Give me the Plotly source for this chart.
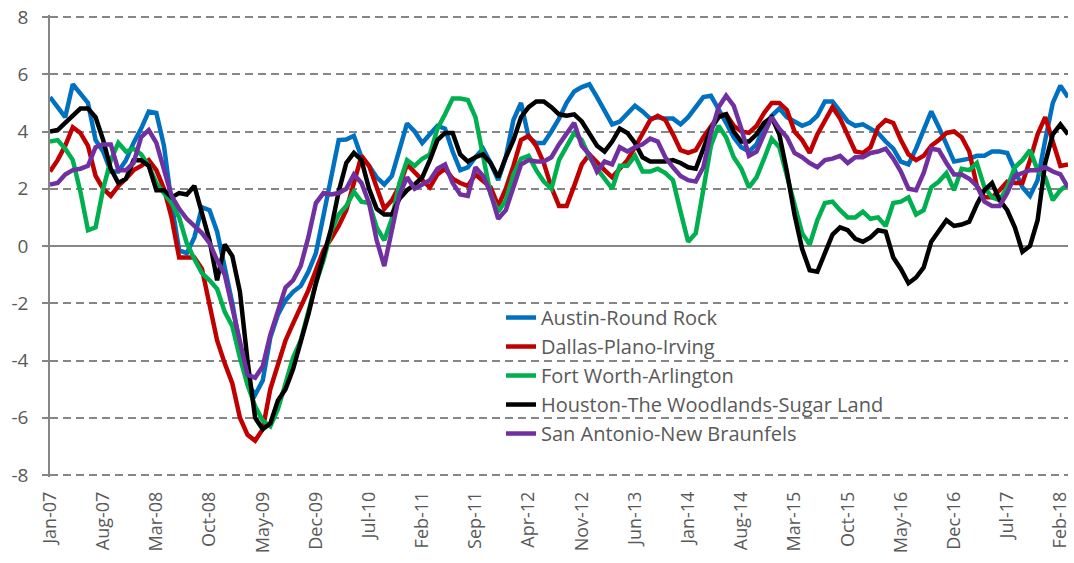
import pandas as pd
import plotly.graph_objects as go

months = pd.date_range("2007-01-01", periods=135, freq="MS").strftime("%b-%y").tolist()
tick_months = months[::7]
tick_idx = list(range(0, len(months), 7))
y_tick_vals = [-8, -6, -4, -2, 0, 2, 4, 6, 8]
y_tick_text = ["-8", "-6", "-4", "-2", "0", "2", "4", "6", "8"]

austin = [5.2, 4.85, 4.5, 5.65, 5.3, 5.0, 3.7, 3.3, 2.6, 2.6,
          3.0, 3.6, 4.1, 4.7, 4.65, 3.5, 1.5, -0.15, -0.25, 0.3,
          1.35, 1.25, 0.5, -0.7, -2.0, -3.5, -4.8, -5.2, -4.7, -3.2,
          -2.4, -1.9, -1.6, -1.4, -0.9, -0.25, 1.1, 2.4, 3.7, 3.72,
          3.85, 3.1, 2.8, 2.4, 2.15, 2.45, 3.3, 4.28, 4.0, 3.6,
          3.9, 4.2, 4.1, 3.3, 2.65, 2.75, 3.1, 3.4, 2.9, 2.3,
          3.1, 4.4, 5.0, 3.8, 3.6, 3.6, 4.0, 4.45, 5.0, 5.4,
          5.55, 5.65, 5.2, 4.7, 4.25, 4.35, 4.6, 4.9, 4.7, 4.45,
          4.5, 4.45, 4.45, 4.25, 4.5, 4.85, 5.2, 5.25, 4.8, 4.3,
          3.8, 3.45, 3.3, 3.55, 4.15, 4.55, 4.8, 4.5, 4.35, 4.2,
          4.3, 4.55, 5.05, 5.05, 4.7, 4.35, 4.2, 4.25, 4.1, 3.95,
          3.65, 3.4, 2.95, 2.85, 3.4, 4.1, 4.7, 4.15, 3.55, 2.95,
          3.0, 3.05, 3.15, 3.15, 3.3, 3.3, 3.25, 2.6, 2.05, 1.75,
          2.3, 3.7, 5.0, 5.6, 5.2]

dallas = [2.6, 3.0, 3.5, 4.15, 3.95, 3.5, 2.45, 2.0, 1.75, 2.1,
          2.35, 2.65, 2.8, 3.0, 2.65, 2.0, 1.0, -0.4, -0.4, -0.4,
          -0.8, -2.1, -3.3, -4.1, -4.8, -6.0, -6.6, -6.8, -6.4, -5.0,
          -4.15, -3.3, -2.7, -2.15, -1.55, -0.85, -0.15, 0.25, 0.7, 1.25,
          2.2, 3.15, 2.8, 2.06, 1.3, 1.6, 2.1, 2.85, 2.55, 2.3,
          2.05, 2.5, 2.7, 2.35, 2.2, 2.1, 2.5, 2.25, 2.05, 1.4,
          2.0, 2.8, 3.7, 3.85, 3.5, 2.9, 2.05, 1.4, 1.4, 2.1,
          2.85, 3.2, 2.9, 2.65, 2.4, 2.7, 3.0, 3.45, 3.9, 4.4,
          4.55, 4.4, 3.9, 3.35, 3.25, 3.35, 3.8, 4.2, 4.55, 4.6,
          4.2, 4.0, 3.95, 4.2, 4.65, 5.0, 5.0, 4.75, 4.0, 3.7,
          3.25, 3.9, 4.4, 4.85, 4.45, 3.85, 3.3, 3.25, 3.45, 4.15,
          4.4, 4.3, 3.7, 3.2, 3.0, 3.15, 3.5, 3.7, 3.95, 4.0,
          3.8, 3.3, 2.1, 1.7, 1.7, 1.95, 2.25, 2.2, 2.2, 3.0,
          3.9, 4.5, 3.7, 2.8, 2.85]

fort_worth = [3.65, 3.7, 3.4, 3.0, 1.9, 0.55, 0.65, 2.0, 3.0, 3.6,
              3.3, 3.4, 3.2, 2.8, 2.2, 1.85, 1.5, 1.0, 0.1, -0.45,
              -0.95, -1.2, -1.5, -2.3, -2.8, -3.9, -4.85, -5.6, -6.1, -6.3,
              -5.7, -4.8, -3.9, -3.3, -2.3, -1.3, -0.5, 0.5, 1.1, 1.4,
              1.9, 1.55, 1.5, 0.65, 0.2, 0.95, 2.2, 3.0, 2.8, 3.05,
              3.2, 4.1, 4.6, 5.15, 5.15, 5.1, 4.5, 3.1, 1.8, 1.2,
              1.6, 2.5, 3.05, 3.15, 2.65, 2.25, 2.0, 3.0, 3.5, 3.95,
              3.7, 3.1, 2.7, 2.35, 2.0, 2.8, 2.8, 3.15, 2.6, 2.6,
              2.7, 2.55, 2.3, 1.2, 0.15, 0.45, 2.05, 3.5, 4.2, 3.8,
              3.1, 2.7, 2.05, 2.4, 3.05, 3.75, 3.45, 2.4, 1.35, 0.45,
              0.05, 0.9, 1.5, 1.55, 1.25, 1.0, 1.0, 1.2, 0.95, 1.0,
              0.7, 1.5, 1.55, 1.7, 1.1, 1.25, 2.05, 2.25, 2.55, 1.95,
              2.7, 2.65, 2.9, 2.05, 1.7, 1.6, 2.05, 2.75, 3.0, 3.35,
              2.65, 2.4, 1.6, 1.95, 2.15]

houston = [4.0, 4.05, 4.3, 4.55, 4.8, 4.8, 4.5, 3.7, 2.7, 2.2,
           2.35, 3.0, 3.0, 2.8, 1.95, 1.95, 1.7, 1.85, 1.8, 2.1,
           1.1, 0.2, -1.2, 0.05, -0.35, -1.6, -4.0, -6.0, -6.4, -6.2,
           -5.4, -5.0, -4.3, -3.4, -2.4, -1.3, -0.4, 0.6, 1.9, 2.9,
           3.25, 3.0, 2.0, 1.3, 1.1, 1.1, 1.65, 1.95, 2.15, 2.4,
           3.0, 3.7, 3.95, 3.95, 3.2, 2.95, 3.1, 3.2, 2.9, 2.4,
           3.1, 3.7, 4.5, 4.85, 5.05, 5.05, 4.85, 4.6, 4.55, 4.6,
           4.35, 3.95, 3.5, 3.3, 3.65, 4.1, 3.95, 3.6, 3.1, 2.95,
           2.95, 2.95, 3.0, 2.9, 2.75, 2.7, 3.4, 4.1, 4.5, 4.6,
           4.0, 3.65, 3.65, 3.9, 4.3, 4.5, 3.9, 2.6, 1.1, -0.1,
           -0.85, -0.9, -0.25, 0.4, 0.65, 0.55, 0.25, 0.15, 0.3, 0.55,
           0.5, -0.4, -0.8, -1.3, -1.1, -0.75, 0.15, 0.55, 0.9, 0.7,
           0.75, 0.85, 1.45, 1.95, 2.2, 1.6, 1.25, 0.65, -0.2, 0.0,
           0.9, 2.9, 3.9, 4.25, 3.9]

san_antonio = [2.15, 2.2, 2.5, 2.65, 2.7, 2.8, 3.45, 3.55, 3.55, 2.65,
               2.65, 2.9, 3.8, 4.05, 3.6, 2.6, 1.75, 1.3, 0.95, 0.7,
               0.45, 0.1, -0.5, -1.0, -2.2, -3.4, -4.5, -4.6, -4.2, -3.1,
               -2.25, -1.45, -1.2, -0.7, 0.3, 1.5, 1.85, 1.8, 1.85, 2.0,
               2.5, 2.2, 1.5, 0.2, -0.7, 0.5, 1.8, 2.4, 2.0, 2.15,
               2.3, 2.7, 2.85, 2.2, 1.8, 1.75, 2.75, 2.45, 1.85, 0.95,
               1.25, 2.05, 2.85, 3.0, 2.95, 2.95, 3.1, 3.55, 3.9, 4.3,
               3.5, 3.2, 2.6, 2.95, 2.85, 3.45, 3.3, 3.45, 3.55, 3.75,
               3.65, 3.1, 2.75, 2.45, 2.3, 2.25, 2.75, 3.95, 4.85, 5.25,
               4.9, 4.1, 3.15, 3.3, 3.9, 4.5, 4.1, 3.8, 3.25, 3.1,
               2.9, 2.75, 3.0, 3.05, 3.15, 2.9, 3.1, 3.1, 3.25, 3.3,
               3.4, 3.05, 2.6, 2.0, 1.95, 2.55, 3.4, 3.35, 2.9, 2.5,
               2.5, 2.35, 2.1, 1.55, 1.4, 1.4, 1.85, 2.45, 2.55, 2.65,
               2.65, 2.75, 2.6, 2.5, 2.05]

series = [
    ("Austin-Round Rock", austin, "#0070C0"),
    ("Dallas-Plano-Irving", dallas, "#C00000"),
    ("Fort Worth-Arlington", fort_worth, "#00B050"),
    ("Houston-The Woodlands-Sugar Land", houston, "#000000"),
    ("San Antonio-New Braunfels", san_antonio, "#7030A0"),
]

FONT = "Open Sans, Noto Sans, sans-serif"
GRAY = "#868686"
TXT = "#595959"

fig = go.Figure()
for name, vals, color in series:
    fig.add_trace(go.Scatter(x=months, y=vals, name=name, mode="lines",
                             line=dict(color=color, width=4.5)))

fig.update_layout(
    width=1074, height=563, autosize=False,
    margin=dict(l=50, r=6, t=15, b=86),
    paper_bgcolor="white", plot_bgcolor="white",
    showlegend=True,
    legend=dict(x=0.443, y=0.3874, xanchor="left", yanchor="top",
                bgcolor="rgba(0,0,0,0)", font=dict(family=FONT, size=20, color=TXT),
                tracegroupgap=0, itemwidth=30),
    xaxis=dict(type="category", range=[0, len(months) - 1], automargin=False,
               tickmode="array", tickvals=tick_months, ticktext=tick_months,
               tickangle=-90, ticks="", showline=False, showgrid=False, zeroline=False,
               tickfont=dict(family=FONT, size=18, color=TXT), ticklabelstandoff=10),
    xaxis2=dict(overlaying="x", anchor="free", position=0.5, range=[0, len(months) - 1],
                type="linear", tickmode="array", tickvals=tick_idx, automargin=False,
                showticklabels=False, ticks="outside", ticklen=7, tickwidth=1.5,
                tickcolor=GRAY, showline=True, linecolor=GRAY, linewidth=1.5,
                showgrid=False, zeroline=False),
    yaxis=dict(range=[-8.07, 8.07], tickmode="array", tickvals=y_tick_vals, ticktext=y_tick_text,
               automargin=False,
               showgrid=True, gridcolor=GRAY, gridwidth=1.5, griddash="8px,5px",
               zeroline=True, zerolinecolor=GRAY, zerolinewidth=1.5,
               showline=True, linecolor=GRAY, linewidth=1.5,
               ticks="outside", ticklen=6, tickwidth=1.5, tickcolor=GRAY,
               tickfont=dict(family=FONT, size=19, color=TXT), ticklabelstandoff=10),
)

fig.write_html("out.html", config={"displayModeBar": False},
               post_script="document.body.style.margin='0';document.body.style.overflow='hidden';")
